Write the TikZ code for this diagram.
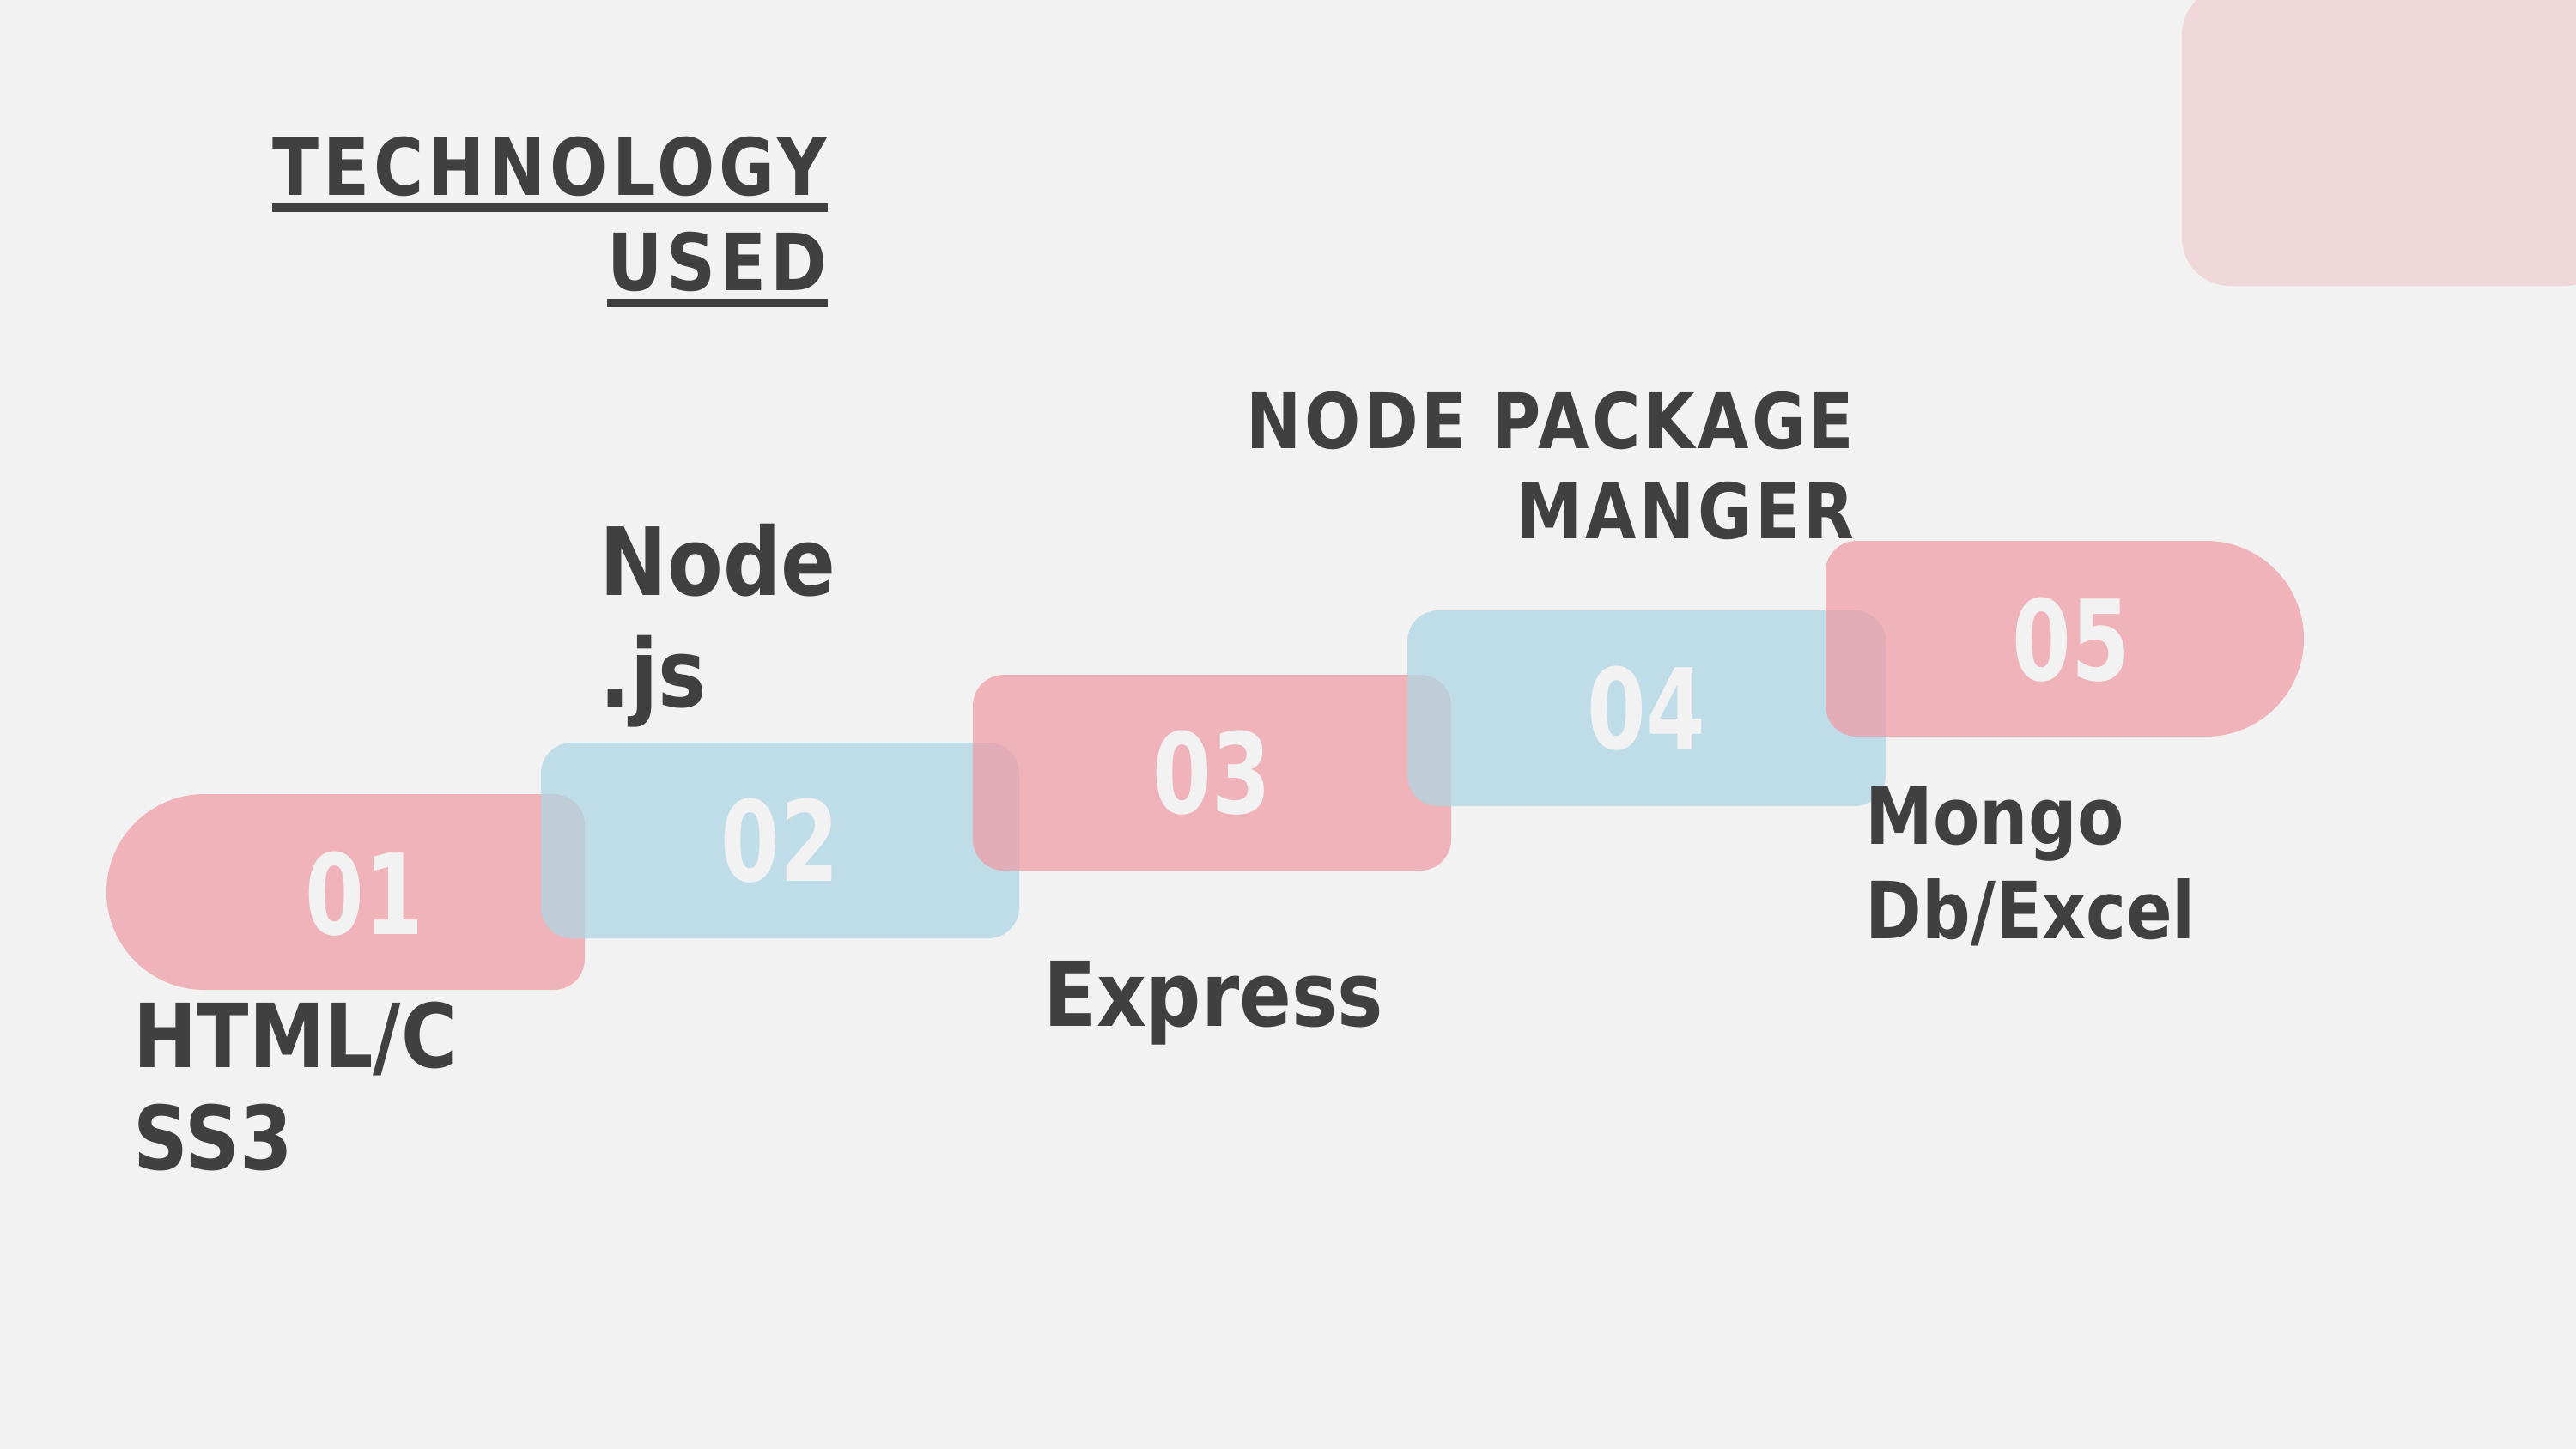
\documentclass[tikz,border=0pt]{standalone}
\usepackage{fontspec}
\setmainfont{DejaVu Sans}[FakeStretch=0.86]
\newfontfamily\capsfont{DejaVu Sans}[FakeStretch=0.86, LetterSpace=4]
\newfontfamily\titlefont{DejaVu Sans}[FakeStretch=0.86, LetterSpace=5.3]
\newfontfamily\numfont{DejaVu Sans}[FakeStretch=0.76]

\definecolor{pageGray}{HTML}{F2F2F2}
\definecolor{inkGray}{HTML}{404040}
\definecolor{stepPink}{RGB}{238,158,167}
\definecolor{stepBlue}{RGB}{175,215,229}
\definecolor{cornerPink}{RGB}{240,215,218}

\def\stepWidth{5.57}
\def\stepHeight{2.28}
\def\stepBend{0.36}
\def\stepCap{1.14}

\tikzset{
  steplabel/.style={font=\bfseries\fontsize{#1}{#1}\selectfont, text=inkGray, inner sep=0pt},
  steplabel/.default=26,
  capslabel/.style={font=\capsfont\bfseries\fontsize{#1}{#1}\selectfont, text=inkGray, inner sep=0pt},
  titlelabel/.style={font=\titlefont\bfseries\fontsize{26.2}{26.2}\selectfont, text=inkGray, inner sep=0pt},
  stepnum/.style={font=\numfont\bfseries\fontsize{37}{37}\selectfont, text=pageGray, inner sep=0pt},
}

\begin{document}
\begin{tikzpicture}
  \clip (0,0) coordinate (origin) rectangle (30,-16.88);
  \fill [pageGray] (origin) rectangle (30,-16.88);
  %% corner block
  \fill [cornerPink, rounded corners=5.6mm] (25.41,0.16) rectangle (30.43,-3.33);

  %% title
  \node (techTop) [titlelabel, anchor=base east] at (9.64,-2.27) {TECHNOLOGY};
  \node (techBot) [titlelabel, anchor=base east] at ([yshift=-1.11cm]techTop.base east) {USED};
  \foreach \t in {techTop,techBot} {
    \draw [inkGray, line width=1mm]
    ([yshift=-1.5mm]\t.base west) -- ([yshift=-1.5mm]\t.base east);
  }

  %% steps
  \fill [stepPink, fill opacity=0.75]
  (1.24,-9.25) ++(\stepCap,0)
  -- ++({\stepWidth-\stepCap-\stepBend},0)
  arc [start angle=90, end angle=0, radius=\stepBend]
  -- ++(0,{-(\stepHeight-2*\stepBend)})
  arc [start angle=0, end angle=-90, radius=\stepBend]
  -- ++({-(\stepWidth-\stepCap-\stepBend)},0)
  arc [start angle=270, end angle=90, radius=\stepCap]
  -- cycle;
  \node (num01) [stepnum] at (4.24,-10.41) {01};
  \foreach \n/\x/\y/\c in {02/6.30/-8.65/stepBlue,03/11.33/-7.86/stepPink,04/16.39/-7.11/stepBlue} {
    \fill [\c, fill opacity=0.75, rounded corners=3.6mm]
    (\x,\y) rectangle ++(\stepWidth,-\stepHeight);
    \node (num\n) [stepnum] at ({\x+\stepWidth/2},{\y-\stepHeight/2}) {\n};
  }
  \fill [stepPink, fill opacity=0.75]
  (21.26,-6.30) ++(\stepBend,0)
  -- ++({\stepWidth-\stepBend-\stepCap},0)
  arc [start angle=90, end angle=-90, radius=\stepCap]
  -- ++({-(\stepWidth-\stepBend-\stepCap)},0)
  arc [start angle=270, end angle=180, radius=\stepBend]
  -- ++(0,{\stepHeight-2*\stepBend})
  arc [start angle=180, end angle=90, radius=\stepBend]
  -- cycle;
  \node (num05) [stepnum] at (24.12,-7.45) {05};

  %% labels
  \node (htmlTop) [steplabel=29.3, anchor=base west] at (1.55,-12.43) {HTML/C};
  \node (htmlBot) [steplabel=29.3, anchor=base west] at ([yshift=-1.19cm]htmlTop.base west) {SS3};
  \node (nodeTop) [steplabel=31.2, anchor=base west] at (6.98,-6.93) {Node};
  \node (nodeBot) [steplabel=31.2, anchor=base west] at ([yshift=-1.30cm]nodeTop.base west) {.js};
  \node (express) [steplabel=29.7, anchor=base west] at (12.15,-11.95) {Express};
  \node (npmTop) [capslabel=25.4, anchor=base east] at (21.60,-5.22) {NODE PACKAGE};
  \node (npmBot) [capslabel=25.4, anchor=base east] at ([yshift=-1.05cm]npmTop.base east) {MANGER};
  \node (mongoTop) [steplabel=26.2, anchor=base west] at (21.72,-9.83) {Mongo};
  \node (mongoBot) [steplabel=26.2, anchor=base west] at ([yshift=-1.10cm]mongoTop.base west) {Db/Excel};
\end{tikzpicture}
\end{document}
